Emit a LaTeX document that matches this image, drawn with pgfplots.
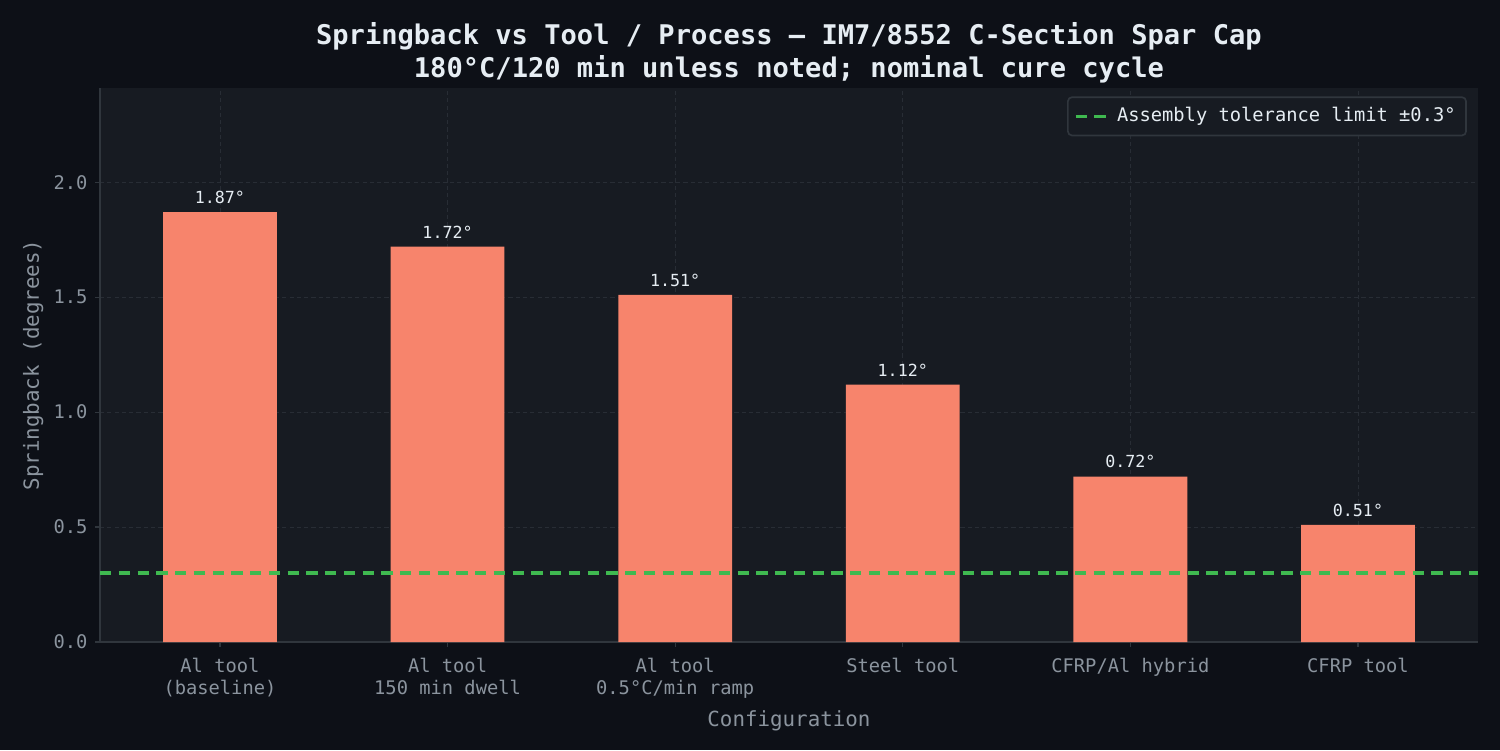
\documentclass[border=0pt]{standalone}
\usepackage{fontspec}
\setmainfont{DejaVu Sans Mono}
\usepackage{pgfplots}
\pgfplotsset{compat=1.18}
\definecolor{figbg}{RGB}{13,16,23}
\definecolor{axbg}{RGB}{23,27,34}
\definecolor{txt}{RGB}{230,237,243}
\definecolor{tick}{RGB}{139,148,158}
\definecolor{spine}{RGB}{48,54,61}
\definecolor{gridc}{RGB}{40,45,53}
\definecolor{bar}{RGB}{247,132,108}
\definecolor{lim}{RGB}{63,185,80}
\begin{document}
\begin{tikzpicture}
\fill[figbg] (0,0) rectangle (720pt,360pt);
\useasboundingbox (0,0) rectangle (720pt,360pt);
\begin{axis}[
  at={(48pt,51.84pt)}, anchor=south west,
  scale only axis, width=661.4pt, height=265.9pt,
  axis background/.style={fill=axbg},
  xmin=-0.527, xmax=5.527, ymin=0, ymax=2.41,
  xtick={0,1,2,3,4,5},
  xticklabels={{Al tool\\(baseline)},{Al tool\\150 min dwell},{Al tool\\0.5°C/min ramp},{Steel tool},{CFRP/Al hybrid},{CFRP tool}},
  xticklabel style={align=center, font=\fontsize{9}{11}\selectfont, text=tick, yshift=-1.5pt},
  ytick={0,0.5,1,1.5,2},
  yticklabel style={font=\fontsize{9}{11}\selectfont, text=tick, /pgf/number format/fixed, /pgf/number format/precision=1, /pgf/number format/fixed zerofill},
  /pgf/number format/assume math mode=true,
  tick align=outside, major tick length=2.5pt,
  tick style={spine, line width=0.6pt},
  axis x line*=bottom, axis y line*=left,
  axis line style={spine, line width=0.8pt},
  grid=major, major grid style={gridc, dash pattern=on 2pt off 1.5pt, line width=0.4pt},
  xlabel={Configuration}, ylabel={Springback (degrees)},
  label style={font=\fontsize{10}{12}\selectfont, text=tick},
  xlabel style={yshift=1pt},
  ylabel style={yshift=-2pt},
  title={\textbf{Springback vs Tool / Process — IM7/8552 C-Section Spar Cap}\\\textbf{180°C/120 min unless noted; nominal cure cycle}},
  title style={align=center, font=\fontsize{13}{15.5}\selectfont, text=txt, yshift=-7pt},
  legend style={at={(0.992,0.985)}, anchor=north east, fill=axbg, draw=spine, rounded corners=2pt, text=txt, font=\fontsize{9}{11}\selectfont, line width=0.8pt, inner xsep=3pt, inner ysep=3pt},
  legend cell align=left,
  legend image post style={line width=1.5pt},
]
\addplot[ybar, bar width=0.5, fill=bar, draw=none, bar shift=0pt, forget plot,
  point meta=explicit symbolic,
  nodes near coords, every node near coord/.append style={font=\fontsize{8}{9}\selectfont, text=txt, yshift=0.5pt}]
  coordinates {(0,1.87)[1.87°] (1,1.72)[1.72°] (2,1.51)[1.51°] (3,1.12)[1.12°] (4,0.72)[0.72°] (5,0.51)[0.51°]};
\addplot[lim, line width=1.5pt, dash pattern=on 5.5pt off 3.5pt] coordinates {(-0.527,0.3) (5.527,0.3)};
\addlegendentry{Assembly tolerance limit ±0.3°}
\end{axis}
\end{tikzpicture}
\end{document}
